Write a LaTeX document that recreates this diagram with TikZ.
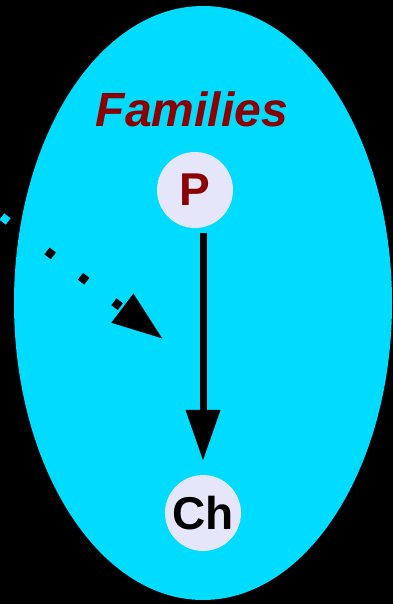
\documentclass[tikz,border=0pt]{standalone}
\usepackage{fontspec}
\setmainfont{Liberation Sans}
\usetikzlibrary{arrows.meta}
\definecolor{famcyan}{RGB}{0,220,255}
\definecolor{famred}{RGB}{139,0,0}
\definecolor{lavend}{RGB}{230,230,250}
\begin{document}
\begin{tikzpicture}[x=1pt,y=-1pt,
    every node/.style={font=\fontsize{46}{52}\selectfont\bfseries},
    member/.style={draw=none, circle, fill=lavend, minimum size=76pt, inner sep=0pt},
    link/.style={line width=7pt, -{Triangle[length=51pt,width=33pt]}},
    inlink/.style={line width=8.5pt, dash pattern=on 8pt off 34pt, -{Triangle[length=51pt,width=34pt]}}]
  \fill[black] (0,0) rectangle (393,604);
  \useasboundingbox (0,0) rectangle (393,604);
  \fill[famcyan] (203,303) ellipse [x radius=189pt, y radius=297pt];

  \node[anchor=base, text=famred, font=\fontsize{48}{54}\selectfont\bfseries\itshape] (fam) at (192,127) {Families};
  \node[member, text=famred] (P) at (195,190) {P};
  \node[member] (Ch) at (203,513) {Ch};

  \draw[link, shorten <=5pt, shorten >=14pt] (P.south -| Ch) -- (Ch.north);

  \coordinate (from) at (47,251);
  \coordinate (into) at (163,339);
  \node[fill=famcyan, minimum size=8pt, inner sep=0pt, rotate=-37] (stray) at (5,219) {};
  \draw[inlink] (from) -- (into);
\end{tikzpicture}
\end{document}
